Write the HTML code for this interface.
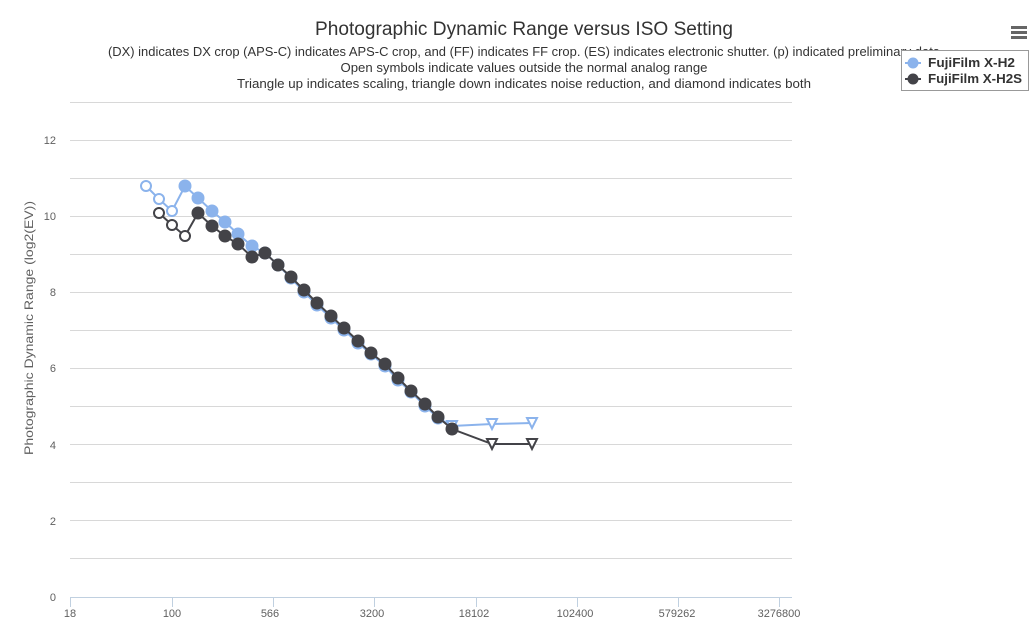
<!DOCTYPE html>
<html><head><meta charset="utf-8"><style>
body{margin:0;background:#fff;}
svg{font-family:"Liberation Sans",sans-serif;display:block}
</style></head><body>
<svg id="s" width="1034" height="624" xmlns="http://www.w3.org/2000/svg">
<rect width="1034" height="624" fill="#fff"/>
<g stroke="#d8d8d8" stroke-width="1">
<line x1="70" x2="792" y1="102.5" y2="102.5"/>
<line x1="70" x2="792" y1="140.5" y2="140.5"/><line x1="70" x2="792" y1="178.5" y2="178.5"/>
<line x1="70" x2="792" y1="216.5" y2="216.5"/><line x1="70" x2="792" y1="254.5" y2="254.5"/>
<line x1="70" x2="792" y1="292.5" y2="292.5"/><line x1="70" x2="792" y1="330.5" y2="330.5"/>
<line x1="70" x2="792" y1="368.5" y2="368.5"/><line x1="70" x2="792" y1="406.5" y2="406.5"/>
<line x1="70" x2="792" y1="444.5" y2="444.5"/><line x1="70" x2="792" y1="482.5" y2="482.5"/>
<line x1="70" x2="792" y1="520.5" y2="520.5"/><line x1="70" x2="792" y1="558.5" y2="558.5"/>
</g>
<line x1="70" x2="792" y1="597.5" y2="597.5" stroke="#c0d0e0"/>
<g stroke="#c0d0e0"><line x1="70.5" x2="70.5" y1="597" y2="607"/><line x1="172.5" x2="172.5" y1="597" y2="607"/><line x1="273.5" x2="273.5" y1="597" y2="607"/><line x1="374.5" x2="374.5" y1="597" y2="607"/><line x1="476.5" x2="476.5" y1="597" y2="607"/><line x1="577.5" x2="577.5" y1="597" y2="607"/><line x1="678.5" x2="678.5" y1="597" y2="607"/><line x1="779.5" x2="779.5" y1="597" y2="607"/></g>
<g font-size="11" fill="#606060" text-anchor="middle">
<text x="70" y="617">18</text><text x="172" y="617">100</text><text x="270" y="617">566</text><text x="372" y="617">3200</text><text x="474" y="617">18102</text><text x="575" y="617">102400</text><text x="677" y="617">579262</text><text x="779" y="617">3276800</text>
</g>
<g font-size="11" fill="#606060" text-anchor="end">
<text x="56" y="601">0</text><text x="56" y="525">2</text><text x="56" y="449">4</text><text x="56" y="372">6</text><text x="56" y="296">8</text><text x="56" y="220">10</text><text x="56" y="144">12</text>
</g>
<text transform="translate(33,328) rotate(-90)" font-size="12" fill="#606060" text-anchor="middle" textLength="254" lengthAdjust="spacingAndGlyphs">Photographic Dynamic Range (log2(EV))</text>
<text x="524" y="35" font-size="19" fill="#333" text-anchor="middle" textLength="418" lengthAdjust="spacingAndGlyphs">Photographic Dynamic Range versus ISO Setting</text>
<g font-size="13" fill="#333" text-anchor="middle">
<text x="524" y="56" textLength="832" lengthAdjust="spacingAndGlyphs">(DX) indicates DX crop (APS-C) indicates APS-C crop, and (FF) indicates FF crop. (ES) indicates electronic shutter. (p) indicated preliminary data</text>
<text x="524" y="72" textLength="367" lengthAdjust="spacingAndGlyphs">Open symbols indicate values outside the normal analog range</text>
<text x="524" y="88" textLength="574" lengthAdjust="spacingAndGlyphs">Triangle up indicates scaling, triangle down indicates noise reduction, and diamond indicates both</text>
</g>
<g fill="#666"><rect x="1011" y="26" width="16" height="3"/><rect x="1011" y="31" width="16" height="3"/><rect x="1011" y="36" width="16" height="3"/></g>
<rect x="901.5" y="50.5" width="127" height="40" fill="#fff" stroke="#999"/>
<line x1="905" x2="921" y1="63" y2="63" stroke="#8bb3ec" stroke-width="2"/><circle cx="913" cy="63" r="5.5" fill="#8bb3ec"/>
<line x1="905" x2="921" y1="79" y2="79" stroke="#434348" stroke-width="2"/><circle cx="913" cy="79" r="5.5" fill="#434348"/>
<g font-size="13" font-weight="bold" fill="#333"><text x="928" y="67" textLength="87" lengthAdjust="spacingAndGlyphs">FujiFilm X-H2</text><text x="928" y="83" textLength="94" lengthAdjust="spacingAndGlyphs">FujiFilm X-H2S</text></g>
<g id="d"></g>
</svg>
<script>
var blue=[[146,186,'o'],[159,199,'o'],[172,211,'o'],[185,186],[198,198],[212,211],[225,222],[238,234],[252,246],[265,253],[278,265],[291,278],[304,292],[317,305],[331,318],[344,330],[358,343],[371,354],[385,366],[398,380],[411,392],[425,406],[438,418],[452,426,'t'],[492,424,'t'],[532,423,'t']];
var blk=[[159,213,'o'],[172,225,'o'],[185,236,'o'],[198,213],[212,226],[225,236],[238,244],[252,257],[265,253],[278,265],[291,277],[304,290],[317,303],[331,316],[344,328],[358,341],[371,353],[385,364],[398,378],[411,391],[425,404],[438,417],[452,429],[492,444,'t'],[532,444,'t']];
var g=document.getElementById('d'),h='';
function ser(a,c){h+='<polyline fill="none" stroke="'+c+'" stroke-width="2" points="'+a.map(p=>p[0]+','+p[1]).join(' ')+'"/>';
a.forEach(p=>{if(p[2]=='o')h+='<circle cx="'+p[0]+'" cy="'+p[1]+'" r="5" fill="#fff" stroke="'+c+'" stroke-width="2"/>';
else if(p[2]=='t')h+='<polygon points="'+(p[0]-5)+','+(p[1]-5)+' '+(p[0]+5)+','+(p[1]-5)+' '+p[0]+','+(p[1]+5)+'" fill="#fff" stroke="'+c+'" stroke-width="2"/>';
else h+='<circle cx="'+p[0]+'" cy="'+p[1]+'" r="6.5" fill="'+c+'"/>';});}
ser(blue,'#8bb3ec');ser(blk,'#434348');g.innerHTML=h;
</script>
</body></html>
